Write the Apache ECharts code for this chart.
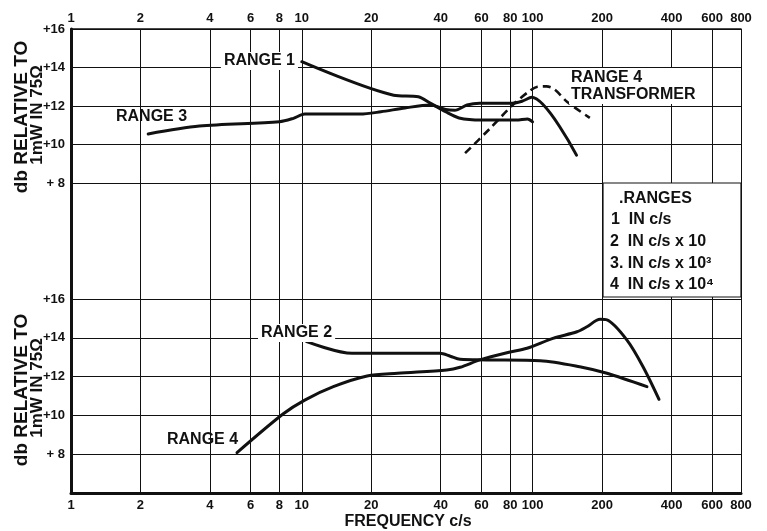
<!DOCTYPE html>
<html><head><meta charset="utf-8">
<script src="https://cdn.jsdelivr.net/npm/echarts@6/dist/echarts.min.js"></script>
<style>html,body{margin:0;padding:0;background:#fff}#c{width:767px;height:531px}</style>
</head><body><div id="c"></div>
<script>
// ---- data (frequency in scaled c/s, level in dB) ----
const freqTicks = [1, 2, 4, 6, 8, 10, 20, 40, 60, 80, 100, 200, 400, 600, 800];
const dbTicks = [6, 8, 10, 12, 14, 16];

// upper panel
const range1 = [[10, 14.3], [25, 12.56], [32, 12.48], [36, 12.15], [42, 11.7], [48, 11.38], [60, 11.27], [85, 11.27], [95, 11.33], [100, 11.18]];
const range3 = [[2.16, 10.55], [3.6, 10.96], [8, 11.18], [9.2, 11.36], [10.3, 11.58], [17.9, 11.58], [22, 11.7], [28, 11.9], [36, 12.05], [42, 11.82], [46, 11.78], [52, 12.05], [59, 12.14], [80, 12.14], [90, 12.25], [99, 12.45], [155, 9.45]];
const range4Transformer = [[51, 9.55], [65, 10.8], [82, 12.05], [95, 12.7], [105, 13.0], [115, 13.02], [125, 12.85], [141, 12.22], [177, 11.38]];

// lower panel
const range2 = [[10.5, 13.8], [16.5, 13.2], [39.7, 13.2], [44, 13.05], [48.5, 12.89], [63, 12.86], [108, 12.82], [160, 12.51], [210, 12.17], [313, 11.48]];
const range4 = [[5.24, 8.08], [8.29, 10.07], [10.3, 10.79], [13.7, 11.48], [19.2, 12.03], [26, 12.17], [42.5, 12.34], [48.5, 12.48], [59.2, 12.86], [77.4, 13.23], [94.6, 13.46], [122.5, 13.97], [155.7, 14.31], [172, 14.57], [196, 14.95], [210, 14.92], [256, 13.89], [301, 12.51], [353, 10.83]];

const FONT = '"Liberation Sans", Arial, sans-serif';
const INK = '#111';

function vLines(pos, dist) {
  return {
    silent: true, symbol: ['none', 'none'], animation: false,
    lineStyle: { color: INK, width: 1, type: 'solid' },
    label: { show: pos !== null, position: pos || 'end', distance: dist || 5, formatter: '{b}',
      color: INK, fontFamily: FONT, fontWeight: 'bold', fontSize: 13, lineHeight: 13 },
    emphasis: { disabled: true },
    data: freqTicks.map(f => ({ xAxis: f, name: String(f) }))
  };
}
function lineSeries(data, xi, extra) {
  return Object.assign({
    type: 'line', data: data, xAxisIndex: xi, yAxisIndex: xi,
    showSymbol: false, symbol: 'none', smooth: 0.3, animation: false, silent: true, z: 5,
    lineStyle: { color: INK, width: 3, cap: 'round', join: 'round' }
  }, extra || {});
}
const xBase = { type: 'log', logBase: 10, min: 1, max: 800,
  axisLabel: { show: false }, axisTick: { show: false }, splitLine: { show: false } };
const yLabel = {
  color: INK, fontFamily: FONT, fontWeight: 'bold', fontSize: 13, margin: 6,
  formatter: v => v === 6 ? '' : (v === 8 ? '+ 8' : '+' + v)
};
const ySplit = { show: true, lineStyle: { color: INK, width: 1, type: 'solid' } };
const yLine = { show: true, onZero: false, lineStyle: { color: INK, width: 3 } };

const option = {
  backgroundColor: '#fff',
  grid: [
    { left: 71, top: 29, width: 670, height: 154 },
    { left: 71, top: 183, width: 670, height: 116 },
    { left: 71, top: 299, width: 670, height: 194 }
  ],
  xAxis: [
    Object.assign({}, xBase, { gridIndex: 0, position: 'top', axisLine: { show: true, lineStyle: { color: INK, width: 1.5 } } }),
    Object.assign({}, xBase, { gridIndex: 1, axisLine: { show: false } }),
    Object.assign({}, xBase, { gridIndex: 2, position: 'bottom', axisLine: { show: true, onZero: false, lineStyle: { color: INK, width: 3 } } })
  ],
  yAxis: [
    { type: 'value', gridIndex: 0, min: 8, max: 16, interval: 2, axisLine: yLine, axisTick: { show: false }, axisLabel: yLabel, splitLine: ySplit },
    { type: 'value', gridIndex: 1, min: 0, max: 1, axisLine: yLine, axisTick: { show: false }, axisLabel: { show: false }, splitLine: { show: false } },
    { type: 'value', gridIndex: 2, min: 6, max: 16, interval: 2, axisLine: yLine, axisTick: { show: false }, axisLabel: yLabel, splitLine: ySplit }
  ],
  series: [
    lineSeries(range1, 0, { markLine: vLines('end', 4) }),
    lineSeries(range3, 0),
    lineSeries(range4Transformer, 0, { lineStyle: { color: INK, width: 2.6, type: [8, 5] } }),
    { type: 'line', data: [], xAxisIndex: 1, yAxisIndex: 1, silent: true, animation: false, markLine: vLines(null) },
    lineSeries(range2, 2, { markLine: vLines('start', 6) }),
    lineSeries(range4, 2)
  ],
  graphic: [
    // y axis titles
    { type: 'text', x: 22, y: 117, rotation: Math.PI / 2, z: 50, style: { text: 'db RELATIVE TO', font: 'bold 19px ' + FONT, fill: INK, align: 'center', verticalAlign: 'middle' } },
    { type: 'text', x: 37, y: 115, rotation: Math.PI / 2, z: 50, style: { text: '1mW IN 75Ω', font: 'bold 17px ' + FONT, fill: INK, align: 'center', verticalAlign: 'middle' } },
    { type: 'text', x: 22, y: 390, rotation: Math.PI / 2, z: 50, style: { text: 'db RELATIVE TO', font: 'bold 19px ' + FONT, fill: INK, align: 'center', verticalAlign: 'middle' } },
    { type: 'text', x: 37, y: 388, rotation: Math.PI / 2, z: 50, style: { text: '1mW IN 75Ω', font: 'bold 17px ' + FONT, fill: INK, align: 'center', verticalAlign: 'middle' } },
    // x axis title
    { type: 'text', x: 408, y: 522, z: 50, style: { text: 'FREQUENCY c/s', font: 'bold 16px ' + FONT, lineHeight: 16, fill: INK, align: 'center', verticalAlign: 'middle' } },
    // curve labels
    { type: 'text', x: 298, y: 61, z: 50, style: { text: 'RANGE 1', font: 'bold 16px ' + FONT, fill: INK, align: 'right', verticalAlign: 'middle', backgroundColor: '#fff', padding: [1, 3] } },
    { type: 'text', x: 116, y: 117, z: 50, style: { text: 'RANGE 3', font: 'bold 16px ' + FONT, fill: INK, align: 'left', verticalAlign: 'middle' } },
    { type: 'text', x: 569, y: 86, z: 50, style: { text: 'RANGE 4\nTRANSFORMER', font: 'bold 16px ' + FONT, lineHeight: 17, fill: INK, align: 'left', verticalAlign: 'middle', backgroundColor: '#fff', padding: [1, 2] } },
    { type: 'text', x: 258, y: 333, z: 50, style: { text: 'RANGE 2', font: 'bold 16px ' + FONT, fill: INK, align: 'left', verticalAlign: 'middle', backgroundColor: '#fff', padding: [1, 3] } },
    { type: 'text', x: 167, y: 440, z: 50, style: { text: 'RANGE 4', font: 'bold 16px ' + FONT, fill: INK, align: 'left', verticalAlign: 'middle' } },
    // ranges box
    { type: 'rect', z: 40, shape: { x: 603, y: 183, width: 138, height: 114 }, style: { fill: '#fff', stroke: INK, lineWidth: 1.2 } },
    { type: 'text', x: 619, y: 199, z: 50, style: { text: '.RANGES', font: 'bold 16px ' + FONT, fill: INK, align: 'left', verticalAlign: 'middle' } },
    { type: 'text', x: 611, y: 220, z: 50, style: { text: '1  IN c/s', font: 'bold 16px ' + FONT, fill: INK, align: 'left', verticalAlign: 'middle' } },
    { type: 'text', x: 610, y: 242, z: 50, style: { text: '2  IN c/s x 10', font: 'bold 16px ' + FONT, fill: INK, align: 'left', verticalAlign: 'middle' } },
    { type: 'text', x: 610, y: 264, z: 50, style: { text: '3. IN c/s x 10³', font: 'bold 16px ' + FONT, fill: INK, align: 'left', verticalAlign: 'middle' } },
    { type: 'text', x: 610, y: 285, z: 50, style: { text: '4  IN c/s x 10⁴', font: 'bold 16px ' + FONT, fill: INK, align: 'left', verticalAlign: 'middle' } }
  ]
};
const chart = echarts.init(document.getElementById('c'));
chart.setOption(option);
</script>
</body></html>
